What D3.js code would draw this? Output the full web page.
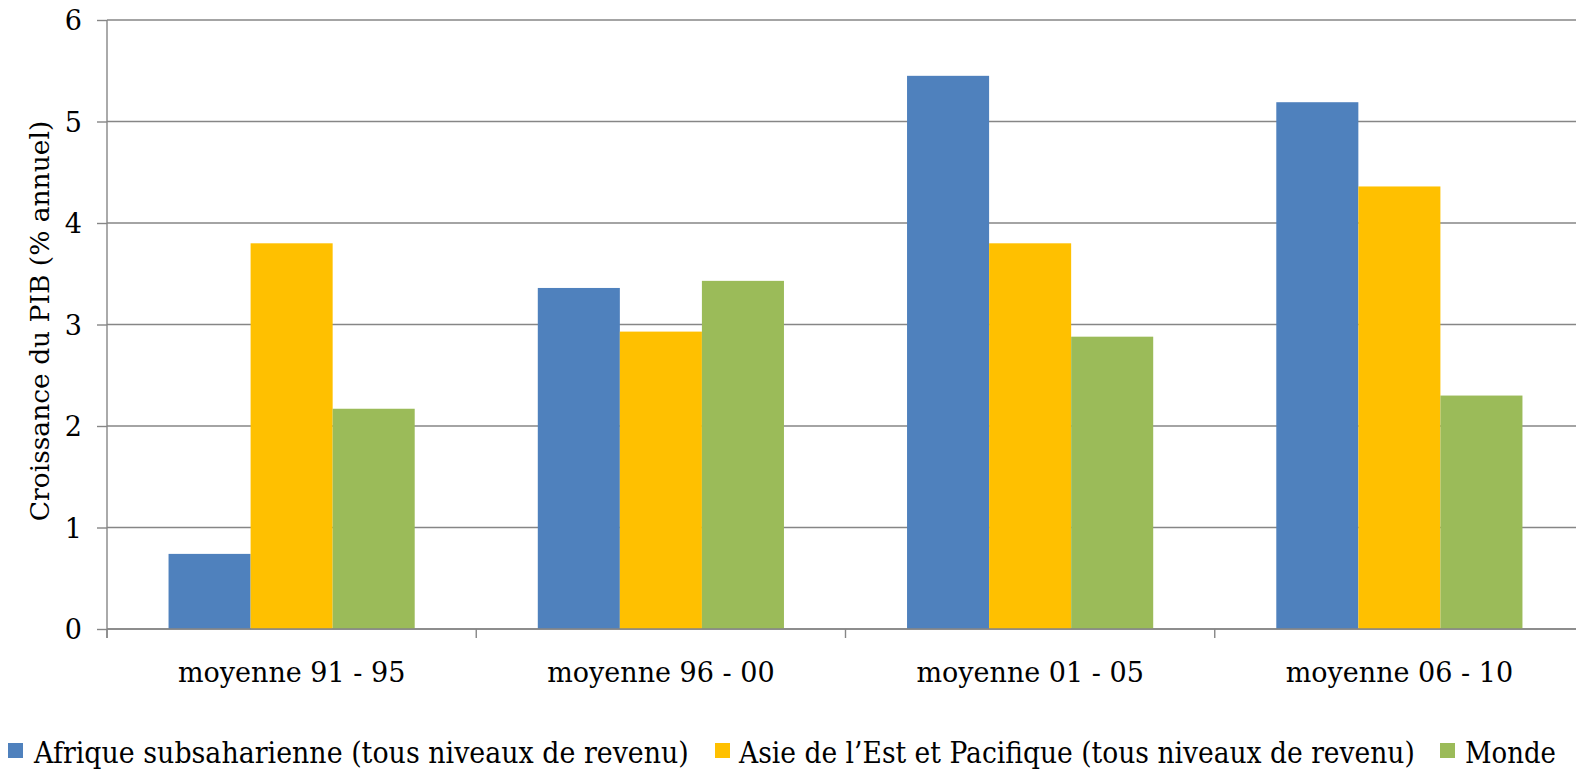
<!DOCTYPE html>
<html>
<head>
<meta charset="utf-8">
<script src="https://cdn.jsdelivr.net/npm/d3@7"></script>
<style>
  html, body { margin: 0; padding: 0; background: #fff; }
  svg { display: block; }
  text { font-family: "DejaVu Serif", "Liberation Serif", serif; fill: #000; }
</style>
</head>
<body>
<svg id="chart" width="1576" height="773"></svg>
<script>
// Average annual GDP growth by period and region
const periods = ["moyenne 91 - 95", "moyenne 96 - 00", "moyenne 01 - 05", "moyenne 06 - 10"];
const seriesNames = [
  "Afrique subsaharienne (tous niveaux de revenu)",
  "Asie de l\u2019Est et Pacifique (tous niveaux de revenu)",
  "Monde"
];
const afrique = [0.74, 3.36, 5.45, 5.19];
const asieEst = [3.80, 2.93, 3.80, 4.36];
const monde   = [2.17, 3.43, 2.88, 2.30];
const seriesColors = ["#4F81BD", "#FFC000", "#9BBB59"];
const yTicks = [0, 1, 2, 3, 4, 5, 6];
const yTitle = "Croissance du PIB (% annuel)";

const seriesValues = [afrique, asieEst, monde];
const svg = d3.select("#chart");

const plotLeft = 107, plotRight = 1584, plotTop = 20, plotBottom = 629;
const gridColor = "#868686";

const x0 = d3.scaleBand().domain(periods).range([plotLeft, plotRight]).padding(0);
const bw = x0.bandwidth();
const gap = bw / 4.5 * 0.75;
const x1 = d3.scaleBand().domain(d3.range(seriesNames.length)).range([gap, bw - gap]).padding(0);
const y = d3.scaleLinear().domain([0, 6]).range([plotBottom, plotTop]);

// horizontal gridlines
svg.append("g")
  .selectAll("line")
  .data(yTicks)
  .join("line")
  .attr("x1", plotLeft).attr("x2", 1576)
  .attr("y1", d => y(d)).attr("y2", d => y(d))
  .attr("stroke", gridColor).attr("stroke-width", 1.4);

// bars
const groups = svg.append("g")
  .selectAll("g")
  .data(periods)
  .join("g")
  .attr("transform", d => `translate(${x0(d)},0)`);

groups.selectAll("rect")
  .data((p, i) => seriesValues.map((vals, s) => ({ s, v: vals[i] })))
  .join("rect")
  .attr("x", d => x1(d.s))
  .attr("width", x1.bandwidth())
  .attr("y", d => y(d.v))
  .attr("height", d => y(0) - y(d.v))
  .attr("fill", d => seriesColors[d.s]);

// y axis
const yAxis = svg.append("g")
  .attr("transform", `translate(${plotLeft},0)`)
  .call(d3.axisLeft(y).tickValues(yTicks).tickSize(10).tickPadding(15).tickFormat(d3.format("d")));
yAxis.select(".domain").attr("stroke", gridColor).attr("stroke-width", 1.4)
  .attr("d", `M0,${plotTop}V${plotBottom + 9}`);
yAxis.selectAll(".tick line").attr("stroke", gridColor).attr("stroke-width", 1.4);
yAxis.selectAll(".tick text")
  .style("font-family", "DejaVu Serif").style("font-size", "27px").attr("dy", "0.36em").attr("fill", "#000");

// x axis
const xAxis = svg.append("g")
  .attr("transform", `translate(0,${plotBottom})`)
  .call(d3.axisBottom(x0).tickSize(0).tickPadding(0));
xAxis.select(".domain").attr("stroke", gridColor).attr("stroke-width", 1.4)
  .attr("d", `M${plotLeft},0H1576`);
xAxis.selectAll(".tick text")
  .style("font-family", "DejaVu Serif").style("font-size", "27px")
  .attr("y", 53).attr("dy", 0).attr("fill", "#000");

// category separators below the baseline
svg.append("g")
  .selectAll("line")
  .data(periods.map(p => x0(p)))
  .join("line")
  .attr("x1", d => d).attr("x2", d => d)
  .attr("y1", plotBottom).attr("y2", plotBottom + 9)
  .attr("stroke", gridColor).attr("stroke-width", 1.4);

// y title
svg.append("text")
  .attr("transform", `translate(49,321) rotate(-90)`)
  .attr("text-anchor", "middle")
  .style("font-size", "26.5px")
  .text(yTitle);

// legend: condensed labels, squeezed horizontally to their target widths
const legendItems = [
  { sx: 8,    tx: 34,   w: 655 },
  { sx: 715,  tx: 739,  w: 676 },
  { sx: 1440, tx: 1465, w: 91 }
];
const legend = svg.append("g");
legendItems.forEach((it, i) => {
  legend.append("rect")
    .attr("x", it.sx).attr("y", 743).attr("width", 15).attr("height", 15)
    .attr("fill", seriesColors[i]);
  const t = legend.append("text")
    .attr("x", 0).attr("y", 0)
    .style("font-size", "29px")
    .text(seriesNames[i]);
  const natural = t.node().getComputedTextLength();
  t.attr("transform", `translate(${it.tx},763) scale(${it.w / natural},1)`);
});
</script>
</body>
</html>
